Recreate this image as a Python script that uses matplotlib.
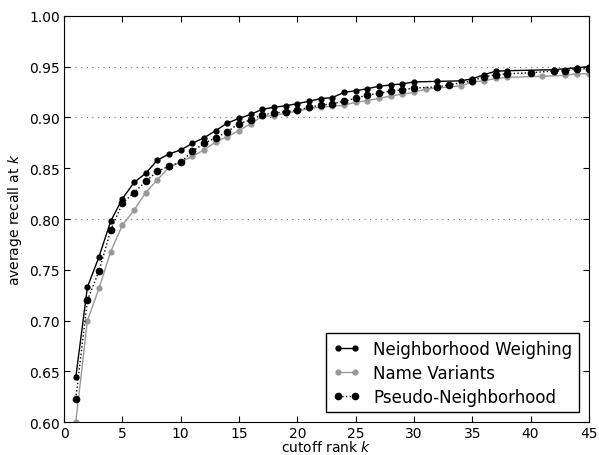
import matplotlib
matplotlib.use("Agg")
import matplotlib.pyplot as plt

# cutoff ranks and average recall for each method
k_nw = list(range(1, 31)) + [32, 34, 35, 36, 37, 38, 42, 44, 45]
recall_nw = [0.644, 0.733, 0.763, 0.798, 0.820, 0.836, 0.845, 0.858, 0.864, 0.868,
             0.8745, 0.880, 0.887, 0.8945, 0.899, 0.903, 0.908, 0.910, 0.9115, 0.9135,
             0.916, 0.9185, 0.9195, 0.9247, 0.9263, 0.9283, 0.9307, 0.932, 0.933, 0.935,
             0.9355, 0.936, 0.938, 0.942, 0.9455, 0.946, 0.947, 0.949, 0.950]

k_nv = list(range(1, 31)) + [31, 32, 34, 35, 36, 37, 38, 41, 43, 44, 45]
recall_nv = [0.600, 0.700, 0.732, 0.768, 0.794, 0.8087, 0.826, 0.8386, 0.851, 0.856,
             0.8617, 0.868, 0.876, 0.881, 0.887, 0.894, 0.901, 0.9017, 0.9043, 0.906,
             0.909, 0.910, 0.911, 0.912, 0.915, 0.9166, 0.9188, 0.921, 0.923, 0.9247,
             0.928, 0.929, 0.931, 0.935, 0.936, 0.9385, 0.9395, 0.9405, 0.9415, 0.943, 0.943]

k_pn = list(range(1, 31)) + [32, 33, 35, 36, 37, 38, 40, 42, 43, 44, 45]
recall_pn = [0.623, 0.720, 0.749, 0.789, 0.8156, 0.826, 0.837, 0.847, 0.852, 0.856,
             0.8666, 0.8745, 0.880, 0.886, 0.894, 0.8975, 0.9027, 0.9043, 0.9056, 0.907,
             0.910, 0.912, 0.9135, 0.9159, 0.9188, 0.922, 0.9237, 0.926, 0.927, 0.929,
             0.930, 0.932, 0.936, 0.940, 0.9418, 0.943, 0.944, 0.9457, 0.946, 0.9477, 0.948]

grid_levels = [0.80, 0.90, 0.95]

fig = plt.figure(figsize=(5.99, 4.56), dpi=100)
ax = fig.add_axes([0.107, 0.072, 0.876, 0.891])

for y in grid_levels:
    ax.axhline(y, color='0.45', lw=0.8, ls=(0, (1, 4)), zorder=0)

ax.plot(k_nw, recall_nw, '-', color='k', lw=1, marker='o', ms=3.5,
        label='Neighborhood Weighing')
ax.plot(k_nv, recall_nv, '-', color='0.6', lw=1, marker='o', ms=3.5, mec='0.6',
        label='Name Variants')
ax.plot(k_pn, recall_pn, ':', color='k', lw=1, marker='o', ms=4.5,
        label='Pseudo-Neighborhood')

ax.set_xlim(0, 45)
ax.set_ylim(0.60, 1.00)
ax.set_xticks(range(0, 46, 5))
ax.set_yticks([0.60, 0.65, 0.70, 0.75, 0.80, 0.85, 0.90, 0.95, 1.00])
ax.set_yticklabels(['%.2f' % v for v in ax.get_yticks()])
ax.tick_params(direction='in', top=True, right=True, length=4, labelsize=10, pad=3)
ax.set_xlabel('cutoff rank $k$', fontsize=10, labelpad=-1)
ax.set_ylabel('average recall at $k$', fontsize=10)

leg = ax.legend(loc='lower right', fontsize=12, handlelength=1.6, numpoints=2,
                fancybox=False, framealpha=1, edgecolor='k', borderaxespad=0.6,
                labelspacing=0.35)
leg.get_frame().set_linewidth(1)

fig.savefig('out.png', dpi=100)
